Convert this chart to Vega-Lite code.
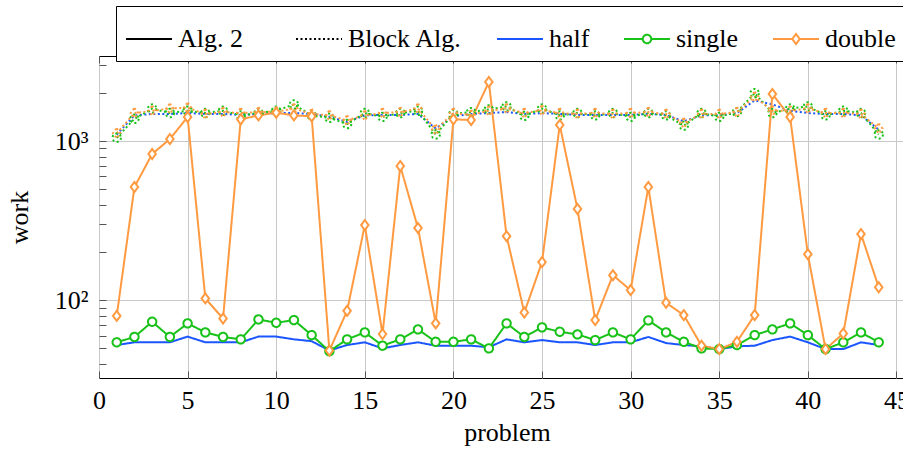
{
"$schema": "https://vega.github.io/schema/vega-lite/v6.json",
"width": 804, "height": 322,
"autosize": {"type": "none"},
"padding": {"left": 99, "top": 56, "right": 0, "bottom": 71},
"config": {"font": "Liberation Serif", "view": {"stroke": "black", "strokeWidth": 1}},
"data": {"values": [
{"p":1,"alg":"Block Alg.","prec":"half","work":1100},{"p":2,"alg":"Block Alg.","prec":"half","work":1450},{"p":3,"alg":"Block Alg.","prec":"half","work":1480},{"p":4,"alg":"Block Alg.","prec":"half","work":1480},{"p":5,"alg":"Block Alg.","prec":"half","work":1500},{"p":6,"alg":"Block Alg.","prec":"half","work":1480},{"p":7,"alg":"Block Alg.","prec":"half","work":1480},{"p":8,"alg":"Block Alg.","prec":"half","work":1460},{"p":9,"alg":"Block Alg.","prec":"half","work":1480},{"p":10,"alg":"Block Alg.","prec":"half","work":1500},{"p":11,"alg":"Block Alg.","prec":"half","work":1500},{"p":12,"alg":"Block Alg.","prec":"half","work":1480},{"p":13,"alg":"Block Alg.","prec":"half","work":1420},{"p":14,"alg":"Block Alg.","prec":"half","work":1320},{"p":15,"alg":"Block Alg.","prec":"half","work":1450},{"p":16,"alg":"Block Alg.","prec":"half","work":1460},{"p":17,"alg":"Block Alg.","prec":"half","work":1460},{"p":18,"alg":"Block Alg.","prec":"half","work":1480},{"p":19,"alg":"Block Alg.","prec":"half","work":1200},{"p":20,"alg":"Block Alg.","prec":"half","work":1430},{"p":21,"alg":"Block Alg.","prec":"half","work":1480},{"p":22,"alg":"Block Alg.","prec":"half","work":1500},{"p":23,"alg":"Block Alg.","prec":"half","work":1520},{"p":24,"alg":"Block Alg.","prec":"half","work":1480},{"p":25,"alg":"Block Alg.","prec":"half","work":1500},{"p":26,"alg":"Block Alg.","prec":"half","work":1480},{"p":27,"alg":"Block Alg.","prec":"half","work":1460},{"p":28,"alg":"Block Alg.","prec":"half","work":1460},{"p":29,"alg":"Block Alg.","prec":"half","work":1460},{"p":30,"alg":"Block Alg.","prec":"half","work":1460},{"p":31,"alg":"Block Alg.","prec":"half","work":1480},{"p":32,"alg":"Block Alg.","prec":"half","work":1460},{"p":33,"alg":"Block Alg.","prec":"half","work":1330},{"p":34,"alg":"Block Alg.","prec":"half","work":1450},{"p":35,"alg":"Block Alg.","prec":"half","work":1460},{"p":36,"alg":"Block Alg.","prec":"half","work":1500},{"p":37,"alg":"Block Alg.","prec":"half","work":1800},{"p":38,"alg":"Block Alg.","prec":"half","work":1700},{"p":39,"alg":"Block Alg.","prec":"half","work":1550},{"p":40,"alg":"Block Alg.","prec":"half","work":1500},{"p":41,"alg":"Block Alg.","prec":"half","work":1480},{"p":42,"alg":"Block Alg.","prec":"half","work":1480},{"p":43,"alg":"Block Alg.","prec":"half","work":1450},{"p":44,"alg":"Block Alg.","prec":"half","work":1180},
{"p":1,"alg":"Block Alg.","prec":"single","work":1050},{"p":2,"alg":"Block Alg.","prec":"single","work":1380},{"p":3,"alg":"Block Alg.","prec":"single","work":1600},{"p":4,"alg":"Block Alg.","prec":"single","work":1500},{"p":5,"alg":"Block Alg.","prec":"single","work":1550},{"p":6,"alg":"Block Alg.","prec":"single","work":1500},{"p":7,"alg":"Block Alg.","prec":"single","work":1550},{"p":8,"alg":"Block Alg.","prec":"single","work":1450},{"p":9,"alg":"Block Alg.","prec":"single","work":1500},{"p":10,"alg":"Block Alg.","prec":"single","work":1550},{"p":11,"alg":"Block Alg.","prec":"single","work":1700},{"p":12,"alg":"Block Alg.","prec":"single","work":1450},{"p":13,"alg":"Block Alg.","prec":"single","work":1400},{"p":14,"alg":"Block Alg.","prec":"single","work":1280},{"p":15,"alg":"Block Alg.","prec":"single","work":1500},{"p":16,"alg":"Block Alg.","prec":"single","work":1420},{"p":17,"alg":"Block Alg.","prec":"single","work":1500},{"p":18,"alg":"Block Alg.","prec":"single","work":1550},{"p":19,"alg":"Block Alg.","prec":"single","work":1100},{"p":20,"alg":"Block Alg.","prec":"single","work":1480},{"p":21,"alg":"Block Alg.","prec":"single","work":1520},{"p":22,"alg":"Block Alg.","prec":"single","work":1580},{"p":23,"alg":"Block Alg.","prec":"single","work":1650},{"p":24,"alg":"Block Alg.","prec":"single","work":1440},{"p":25,"alg":"Block Alg.","prec":"single","work":1600},{"p":26,"alg":"Block Alg.","prec":"single","work":1450},{"p":27,"alg":"Block Alg.","prec":"single","work":1500},{"p":28,"alg":"Block Alg.","prec":"single","work":1450},{"p":29,"alg":"Block Alg.","prec":"single","work":1500},{"p":30,"alg":"Block Alg.","prec":"single","work":1420},{"p":31,"alg":"Block Alg.","prec":"single","work":1500},{"p":32,"alg":"Block Alg.","prec":"single","work":1450},{"p":33,"alg":"Block Alg.","prec":"single","work":1250},{"p":34,"alg":"Block Alg.","prec":"single","work":1500},{"p":35,"alg":"Block Alg.","prec":"single","work":1420},{"p":36,"alg":"Block Alg.","prec":"single","work":1520},{"p":37,"alg":"Block Alg.","prec":"single","work":2000},{"p":38,"alg":"Block Alg.","prec":"single","work":1500},{"p":39,"alg":"Block Alg.","prec":"single","work":1600},{"p":40,"alg":"Block Alg.","prec":"single","work":1650},{"p":41,"alg":"Block Alg.","prec":"single","work":1450},{"p":42,"alg":"Block Alg.","prec":"single","work":1550},{"p":43,"alg":"Block Alg.","prec":"single","work":1500},{"p":44,"alg":"Block Alg.","prec":"single","work":1100},
{"p":1,"alg":"Block Alg.","prec":"double","work":1120},{"p":2,"alg":"Block Alg.","prec":"double","work":1500},{"p":3,"alg":"Block Alg.","prec":"double","work":1550},{"p":4,"alg":"Block Alg.","prec":"double","work":1600},{"p":5,"alg":"Block Alg.","prec":"double","work":1620},{"p":6,"alg":"Block Alg.","prec":"double","work":1480},{"p":7,"alg":"Block Alg.","prec":"double","work":1520},{"p":8,"alg":"Block Alg.","prec":"double","work":1500},{"p":9,"alg":"Block Alg.","prec":"double","work":1520},{"p":10,"alg":"Block Alg.","prec":"double","work":1530},{"p":11,"alg":"Block Alg.","prec":"double","work":1600},{"p":12,"alg":"Block Alg.","prec":"double","work":1480},{"p":13,"alg":"Block Alg.","prec":"double","work":1450},{"p":14,"alg":"Block Alg.","prec":"double","work":1350},{"p":15,"alg":"Block Alg.","prec":"double","work":1450},{"p":16,"alg":"Block Alg.","prec":"double","work":1500},{"p":17,"alg":"Block Alg.","prec":"double","work":1520},{"p":18,"alg":"Block Alg.","prec":"double","work":1600},{"p":19,"alg":"Block Alg.","prec":"double","work":1180},{"p":20,"alg":"Block Alg.","prec":"double","work":1500},{"p":21,"alg":"Block Alg.","prec":"double","work":1460},{"p":22,"alg":"Block Alg.","prec":"double","work":1550},{"p":23,"alg":"Block Alg.","prec":"double","work":1600},{"p":24,"alg":"Block Alg.","prec":"double","work":1500},{"p":25,"alg":"Block Alg.","prec":"double","work":1560},{"p":26,"alg":"Block Alg.","prec":"double","work":1500},{"p":27,"alg":"Block Alg.","prec":"double","work":1480},{"p":28,"alg":"Block Alg.","prec":"double","work":1500},{"p":29,"alg":"Block Alg.","prec":"double","work":1480},{"p":30,"alg":"Block Alg.","prec":"double","work":1500},{"p":31,"alg":"Block Alg.","prec":"double","work":1520},{"p":32,"alg":"Block Alg.","prec":"double","work":1480},{"p":33,"alg":"Block Alg.","prec":"double","work":1300},{"p":34,"alg":"Block Alg.","prec":"double","work":1480},{"p":35,"alg":"Block Alg.","prec":"double","work":1480},{"p":36,"alg":"Block Alg.","prec":"double","work":1520},{"p":37,"alg":"Block Alg.","prec":"double","work":1900},{"p":38,"alg":"Block Alg.","prec":"double","work":1550},{"p":39,"alg":"Block Alg.","prec":"double","work":1550},{"p":40,"alg":"Block Alg.","prec":"double","work":1600},{"p":41,"alg":"Block Alg.","prec":"double","work":1500},{"p":42,"alg":"Block Alg.","prec":"double","work":1500},{"p":43,"alg":"Block Alg.","prec":"double","work":1480},{"p":44,"alg":"Block Alg.","prec":"double","work":1200},
{"p":1,"alg":"Alg. 2","prec":"half","work":52.5},{"p":2,"alg":"Alg. 2","prec":"half","work":54.6},{"p":3,"alg":"Alg. 2","prec":"half","work":54.6},{"p":4,"alg":"Alg. 2","prec":"half","work":54.6},{"p":5,"alg":"Alg. 2","prec":"half","work":59.3},{"p":6,"alg":"Alg. 2","prec":"half","work":54.6},{"p":7,"alg":"Alg. 2","prec":"half","work":54.6},{"p":8,"alg":"Alg. 2","prec":"half","work":54.6},{"p":9,"alg":"Alg. 2","prec":"half","work":59.3},{"p":10,"alg":"Alg. 2","prec":"half","work":59.3},{"p":11,"alg":"Alg. 2","prec":"half","work":57},{"p":12,"alg":"Alg. 2","prec":"half","work":55.5},{"p":13,"alg":"Alg. 2","prec":"half","work":48.5},{"p":14,"alg":"Alg. 2","prec":"half","work":52.5},{"p":15,"alg":"Alg. 2","prec":"half","work":54.6},{"p":16,"alg":"Alg. 2","prec":"half","work":50},{"p":17,"alg":"Alg. 2","prec":"half","work":52.5},{"p":18,"alg":"Alg. 2","prec":"half","work":54.6},{"p":19,"alg":"Alg. 2","prec":"half","work":52},{"p":20,"alg":"Alg. 2","prec":"half","work":52},{"p":21,"alg":"Alg. 2","prec":"half","work":52},{"p":22,"alg":"Alg. 2","prec":"half","work":50.8},{"p":23,"alg":"Alg. 2","prec":"half","work":57},{"p":24,"alg":"Alg. 2","prec":"half","work":54.6},{"p":25,"alg":"Alg. 2","prec":"half","work":56.4},{"p":26,"alg":"Alg. 2","prec":"half","work":54.6},{"p":27,"alg":"Alg. 2","prec":"half","work":54.6},{"p":28,"alg":"Alg. 2","prec":"half","work":52.5},{"p":29,"alg":"Alg. 2","prec":"half","work":54.6},{"p":30,"alg":"Alg. 2","prec":"half","work":54.6},{"p":31,"alg":"Alg. 2","prec":"half","work":59},{"p":32,"alg":"Alg. 2","prec":"half","work":54},{"p":33,"alg":"Alg. 2","prec":"half","work":52.5},{"p":34,"alg":"Alg. 2","prec":"half","work":51.5},{"p":35,"alg":"Alg. 2","prec":"half","work":49.5},{"p":36,"alg":"Alg. 2","prec":"half","work":51.5},{"p":37,"alg":"Alg. 2","prec":"half","work":52},{"p":38,"alg":"Alg. 2","prec":"half","work":56.4},{"p":39,"alg":"Alg. 2","prec":"half","work":59.3},{"p":40,"alg":"Alg. 2","prec":"half","work":54.6},{"p":41,"alg":"Alg. 2","prec":"half","work":49.5},{"p":42,"alg":"Alg. 2","prec":"half","work":49.5},{"p":43,"alg":"Alg. 2","prec":"half","work":54.6},{"p":44,"alg":"Alg. 2","prec":"half","work":52.5},
{"p":1,"alg":"Alg. 2","prec":"single","work":54.6},{"p":2,"alg":"Alg. 2","prec":"single","work":59},{"p":3,"alg":"Alg. 2","prec":"single","work":73.5},{"p":4,"alg":"Alg. 2","prec":"single","work":59},{"p":5,"alg":"Alg. 2","prec":"single","work":71.8},{"p":6,"alg":"Alg. 2","prec":"single","work":63},{"p":7,"alg":"Alg. 2","prec":"single","work":59},{"p":8,"alg":"Alg. 2","prec":"single","work":57},{"p":9,"alg":"Alg. 2","prec":"single","work":76},{"p":10,"alg":"Alg. 2","prec":"single","work":72.4},{"p":11,"alg":"Alg. 2","prec":"single","work":75.3},{"p":12,"alg":"Alg. 2","prec":"single","work":60.6},{"p":13,"alg":"Alg. 2","prec":"single","work":48},{"p":14,"alg":"Alg. 2","prec":"single","work":57},{"p":15,"alg":"Alg. 2","prec":"single","work":63},{"p":16,"alg":"Alg. 2","prec":"single","work":52},{"p":17,"alg":"Alg. 2","prec":"single","work":57},{"p":18,"alg":"Alg. 2","prec":"single","work":65.8},{"p":19,"alg":"Alg. 2","prec":"single","work":55},{"p":20,"alg":"Alg. 2","prec":"single","work":55},{"p":21,"alg":"Alg. 2","prec":"single","work":57},{"p":22,"alg":"Alg. 2","prec":"single","work":50},{"p":23,"alg":"Alg. 2","prec":"single","work":71.8},{"p":24,"alg":"Alg. 2","prec":"single","work":59},{"p":25,"alg":"Alg. 2","prec":"single","work":67.8},{"p":26,"alg":"Alg. 2","prec":"single","work":63.6},{"p":27,"alg":"Alg. 2","prec":"single","work":61.2},{"p":28,"alg":"Alg. 2","prec":"single","work":56.4},{"p":29,"alg":"Alg. 2","prec":"single","work":63},{"p":30,"alg":"Alg. 2","prec":"single","work":57},{"p":31,"alg":"Alg. 2","prec":"single","work":75},{"p":32,"alg":"Alg. 2","prec":"single","work":63},{"p":33,"alg":"Alg. 2","prec":"single","work":55},{"p":34,"alg":"Alg. 2","prec":"single","work":50},{"p":35,"alg":"Alg. 2","prec":"single","work":49.5},{"p":36,"alg":"Alg. 2","prec":"single","work":52.5},{"p":37,"alg":"Alg. 2","prec":"single","work":60.6},{"p":38,"alg":"Alg. 2","prec":"single","work":65.8},{"p":39,"alg":"Alg. 2","prec":"single","work":71.8},{"p":40,"alg":"Alg. 2","prec":"single","work":60.6},{"p":41,"alg":"Alg. 2","prec":"single","work":49.5},{"p":42,"alg":"Alg. 2","prec":"single","work":54.6},{"p":43,"alg":"Alg. 2","prec":"single","work":63},{"p":44,"alg":"Alg. 2","prec":"single","work":54.6},
{"p":1,"alg":"Alg. 2","prec":"double","work":80},{"p":2,"alg":"Alg. 2","prec":"double","work":515},{"p":3,"alg":"Alg. 2","prec":"double","work":830},{"p":4,"alg":"Alg. 2","prec":"double","work":1030},{"p":5,"alg":"Alg. 2","prec":"double","work":1416},{"p":6,"alg":"Alg. 2","prec":"double","work":103},{"p":7,"alg":"Alg. 2","prec":"double","work":77},{"p":8,"alg":"Alg. 2","prec":"double","work":1370},{"p":9,"alg":"Alg. 2","prec":"double","work":1450},{"p":10,"alg":"Alg. 2","prec":"double","work":1507},{"p":11,"alg":"Alg. 2","prec":"double","work":1450},{"p":12,"alg":"Alg. 2","prec":"double","work":1430},{"p":13,"alg":"Alg. 2","prec":"double","work":48.5},{"p":14,"alg":"Alg. 2","prec":"double","work":86},{"p":15,"alg":"Alg. 2","prec":"double","work":297},{"p":16,"alg":"Alg. 2","prec":"double","work":61.5},{"p":17,"alg":"Alg. 2","prec":"double","work":697},{"p":18,"alg":"Alg. 2","prec":"double","work":285},{"p":19,"alg":"Alg. 2","prec":"double","work":71.8},{"p":20,"alg":"Alg. 2","prec":"double","work":1370},{"p":21,"alg":"Alg. 2","prec":"double","work":1355},{"p":22,"alg":"Alg. 2","prec":"double","work":2350},{"p":23,"alg":"Alg. 2","prec":"double","work":253},{"p":24,"alg":"Alg. 2","prec":"double","work":84},{"p":25,"alg":"Alg. 2","prec":"double","work":174},{"p":26,"alg":"Alg. 2","prec":"double","work":1262},{"p":27,"alg":"Alg. 2","prec":"double","work":375},{"p":28,"alg":"Alg. 2","prec":"double","work":75.3},{"p":29,"alg":"Alg. 2","prec":"double","work":144},{"p":30,"alg":"Alg. 2","prec":"double","work":116},{"p":31,"alg":"Alg. 2","prec":"double","work":515},{"p":32,"alg":"Alg. 2","prec":"double","work":96.7},{"p":33,"alg":"Alg. 2","prec":"double","work":80.9},{"p":34,"alg":"Alg. 2","prec":"double","work":52},{"p":35,"alg":"Alg. 2","prec":"double","work":49.5},{"p":36,"alg":"Alg. 2","prec":"double","work":55},{"p":37,"alg":"Alg. 2","prec":"double","work":80.9},{"p":38,"alg":"Alg. 2","prec":"double","work":1975},{"p":39,"alg":"Alg. 2","prec":"double","work":1416},{"p":40,"alg":"Alg. 2","prec":"double","work":195},{"p":41,"alg":"Alg. 2","prec":"double","work":49.5},{"p":42,"alg":"Alg. 2","prec":"double","work":62},{"p":43,"alg":"Alg. 2","prec":"double","work":261},{"p":44,"alg":"Alg. 2","prec":"double","work":121}
]},
"layer": [
{
"mark": {"type": "line", "strokeWidth": 2},
"encoding": {
"x": {"field": "p", "type": "quantitative", "scale": {"domain": [0, 45.37], "nice": false, "zero": false},
  "axis": {"orient": "bottom", "values": [0,5,10,15,20,25,30,35,40,45], "grid": true, "gridColor": "#c8c8c8", "gridWidth": 1, "domain": false, "tickSize": -7, "tickColor": "#555", "tickWidth": 1, "labelFont": "Liberation Serif", "labelFontSize": 26, "labelColor": "black", "labelPadding": 16, "labelFlush": false, "labelOverlap": false, "title": "problem", "titleFont": "Liberation Serif", "titleFontSize": 26, "titleFontWeight": "normal", "titleColor": "black", "titleX": 408, "titleY": 62, "titleBaseline": "alphabetic"}},
"y": {"field": "work", "type": "quantitative", "scale": {"type": "log", "domain": [32.6, 3420], "nice": false},
  "axis": {"orient": "left", "values": [40,50,60,70,80,90,100,200,300,400,500,600,700,800,900,1000,2000,3000], "labelExpr": "datum.value == 100 ? '10²' : datum.value == 1000 ? '10³' : ''", "grid": true, "gridColor": "#c8c8c8", "gridWidth": 1,
   "gridOpacity": {"condition": {"test": "datum.value == 100 || datum.value == 1000", "value": 1}, "value": 0},
   "domain": false, "tickSize": -7, "tickColor": "#555", "tickWidth": 1, "labelFont": "Liberation Serif", "labelFontSize": 26, "labelColor": "black", "labelPadding": 18, "labelOverlap": false, "title": "work", "titleFont": "Liberation Serif", "titleFontSize": 26, "titleFontWeight": "normal", "titleColor": "black", "titleX": -72, "titleY": 161, "titleBaseline": "alphabetic",
   "encode": {"ticks": {"update": {"x2": {"signal": "datum.value == 100 || datum.value == 1000 ? 7 : 5"}}}}}},
"color": {"field": "prec", "type": "nominal",
  "scale": {"domain": ["Alg. 2", "Block Alg.", "half", "single", "double"], "range": ["black", "black", "#1a55ff", "#19c219", "#ff9a40"]},
  "legend": {"orient": "none", "legendX": 17, "legendY": -50, "direction": "horizontal", "columns": 5, "title": null, "padding": 9, "strokeColor": "black", "fillColor": "white", "symbolSize": 2116, "symbolStrokeWidth": 2, "labelFont": "Liberation Serif", "labelFontSize": 26, "labelColor": "black", "labelOffset": 5, "columnPadding": 30, "labelLimit": 300,
   "labelExpr": "datum.label === 'Alg. 2' ? 'Alg. 2\u2800' : datum.label",
   "encode": {"symbols": {"update": {
     "shape": {"signal": "datum.value === 'single' ? 'M-1,0H-0.183M0.183,0H1M0.183,0A0.183,0.183 0 1,1 -0.183,0A0.183,0.183 0 1,1 0.183,0' : datum.value === 'double' ? 'M-1,0H-0.163M0.163,0H1M0,-0.217L0.163,0L0,0.217L-0.163,0Z' : 'M-1,0H1'"},
     "strokeDash": {"signal": "datum.value === 'Block Alg.' ? [2,2.5] : [1,0]"},
     "fill": {"value": "white"},
     "stroke": {"scale": "color", "field": "value"},
     "size": {"value": 2116},
     "strokeWidth": {"value": 2},
     "opacity": {"value": 1}}}}}},
"strokeDash": {"field": "alg", "type": "nominal", "scale": {"domain": ["Alg. 2", "Block Alg."], "range": [[1, 0], [2, 2.5]]}, "legend": null}
}
},
{
"transform": [{"filter": "datum.prec != 'half'"}],
"mark": {"type": "point", "filled": false, "fill": "white", "strokeWidth": 2, "size": 100, "opacity": 1},
"encoding": {
"x": {"field": "p", "type": "quantitative", "scale": {"domain": [0, 45.37], "nice": false, "zero": false},
  "axis": {"orient": "top", "values": [0,5,10,15,20,25,30,35,40,45], "labels": false, "grid": false, "domain": false, "tickSize": -7, "tickColor": "#555", "tickWidth": 1, "title": null}},
"y": {"field": "work", "type": "quantitative", "scale": {"type": "log", "domain": [32.6, 3420], "nice": false}, "axis": null},
"color": {"field": "prec", "type": "nominal"},
"shape": {"field": "prec", "type": "nominal", "scale": {"domain": ["single", "double"], "range": ["M0.84,0A0.84,0.84 0 1,1 -0.84,0A0.84,0.84 0 1,1 0.84,0", "M0,-1L0.75,0L0,1L-0.75,0Z"]}, "legend": null},
"strokeDash": {"field": "alg", "type": "nominal", "legend": null},
"fillOpacity": {"condition": {"test": "datum.alg === 'Alg. 2'", "value": 1}, "value": 0}
}
}
],
"resolve": {"axis": {"x": "independent", "y": "independent"}}
}
